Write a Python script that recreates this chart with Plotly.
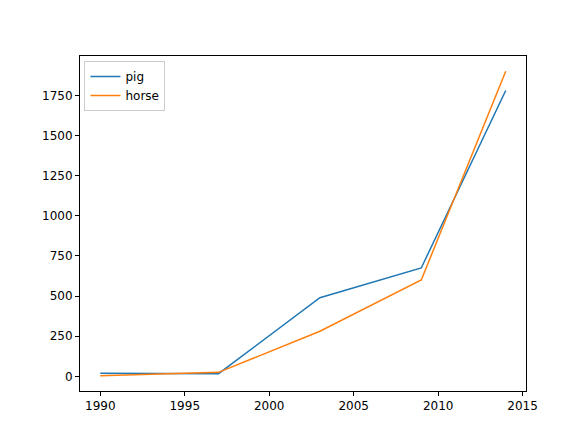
import plotly.graph_objects as go

years = [1990, 1997, 2003, 2009, 2014]
pig = [20, 17, 490, 675, 1780]
horse = [4, 25, 281, 600, 1900]

fig = go.Figure()
fig.add_trace(go.Scatter(x=years, y=pig, mode="lines", name="pig", line=dict(color="#1f77b4", width=1.5)))
fig.add_trace(go.Scatter(x=years, y=horse, mode="lines", name="horse", line=dict(color="#ff7f0e", width=1.5)))

axis = dict(showgrid=False, zeroline=False, showline=True, linecolor="black", linewidth=1,
            mirror=True, ticks="outside", ticklen=4, tickcolor="black", automargin=False,
            tickfont=dict(family="DejaVu Sans", size=12, color="black"))
fig.update_layout(
    width=576, height=432, plot_bgcolor="white", paper_bgcolor="white",
    margin=dict(l=72, r=58, t=48, b=49),
    xaxis=dict(axis, range=[1988.8, 2015.2], tickvals=[1990, 1995, 2000, 2005, 2010, 2015]),
    yaxis=dict(axis, range=[-91, 1995], tickvals=[0, 250, 500, 750, 1000, 1250, 1500, 1750]),
    legend=dict(x=0.01, y=0.985, xanchor="left", yanchor="top", bordercolor="#cccccc", borderwidth=1,
                bgcolor="white", tracegroupgap=0, itemwidth=30,
                font=dict(family="DejaVu Sans", size=12, color="black")),
)
fig.write_html("out.html")
